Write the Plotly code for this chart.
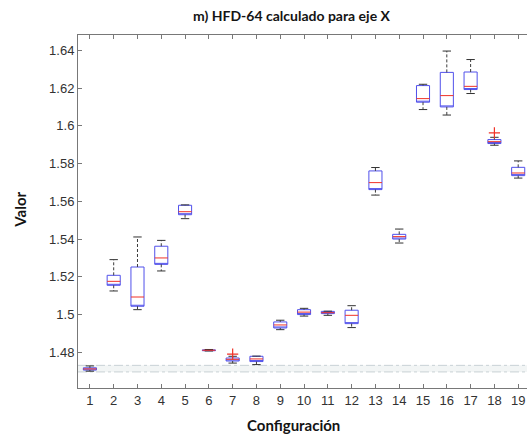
import plotly.graph_objects as go

# HFD-64 (X axis) box statistics per configuration
configs = list(range(1, 20))
q1 = [1.4706, 1.5155, 1.5044, 1.5266, 1.5529, 1.4809, 1.4754, 1.4751, 1.4929, 1.5000,
      1.5005, 1.4952, 1.5662, 1.5400, 1.6125, 1.6100, 1.6192, 1.5906, 1.5736]
median = [1.4712, 1.5176, 1.5093, 1.5300, 1.5545, 1.4811, 1.4763, 1.4765, 1.4945, 1.5013,
          1.5010, 1.4996, 1.5699, 1.5413, 1.6144, 1.6160, 1.6209, 1.5916, 1.5750]
q3 = [1.4718, 1.5208, 1.5252, 1.5362, 1.5579, 1.4813, 1.4770, 1.4779, 1.4961, 1.5026,
      1.5017, 1.5023, 1.5761, 1.5425, 1.6213, 1.6283, 1.6285, 1.5927, 1.5780]
wmin = [1.4700, 1.5125, 1.5026, 1.5231, 1.5508, 1.4807, 1.4743, 1.4735, 1.4920, 1.4992,
        1.4996, 1.4931, 1.5633, 1.5379, 1.6086, 1.6057, 1.6171, 1.5897, 1.5723]
wmax = [1.4728, 1.5291, 1.5411, 1.5393, 1.5581, 1.4815, 1.4779, 1.4780, 1.4970, 1.5033,
        1.5018, 1.5047, 1.5779, 1.5453, 1.6220, 1.6396, 1.6351, 1.5939, 1.5814]
outlier_x = [7, 18]
outlier_y = [1.4790, 1.5962]

# reference band
band_lo = 1.4696
band_hi = 1.4731

y_ticks = [1.48, 1.50, 1.52, 1.54, 1.56, 1.58, 1.60, 1.62, 1.64]
y_tick_text = ["1.48", "1.5", "1.52", "1.54", "1.56", "1.58", "1.6", "1.62", "1.64"]

BOX_W = 0.55
BLUE = "rgb(80,80,235)"
RED = "rgb(240,50,40)"
GRAY = "rgb(120,120,120)"
LABEL_FONT = "Lato, Open Sans, sans-serif"

fig = go.Figure()

# shaded reference band with dash-dot edges
fig.add_shape(type="rect", xref="paper", x0=0, x1=1, yref="y", y0=band_lo, y1=band_hi,
              fillcolor="rgb(242,245,245)", line=dict(width=0), layer="below")
for yv in (band_lo, band_hi):
    fig.add_shape(type="line", xref="paper", x0=0, x1=1, yref="y", y0=yv, y1=yv,
                  line=dict(color="rgb(190,200,205)", width=0.8, dash="dashdot"),
                  layer="below")

# whiskers (dashed black) from box edges to extremes
wx, wy = [], []
for c, a, b, lo, hi in zip(configs, q1, q3, wmin, wmax):
    wx += [c, c, None, c, c, None]
    wy += [b, hi, None, a, lo, None]
fig.add_trace(go.Scatter(x=wx, y=wy, mode="lines",
                         line=dict(color="rgb(60,60,60)", width=1, dash="3px,2px"),
                         hoverinfo="skip", showlegend=False))

# whisker caps
fig.add_trace(go.Scatter(x=configs + configs, y=wmax + wmin, mode="markers",
                         marker=dict(symbol="line-ew", size=6,
                                     line=dict(color="rgb(50,50,50)", width=1)),
                         hoverinfo="skip", showlegend=False))

# red median lines (under the box outline)
mx, my = [], []
for c, m in zip(configs, median):
    mx += [c - BOX_W / 2, c + BOX_W / 2, None]
    my += [m, m, None]
fig.add_trace(go.Scatter(x=mx, y=my, mode="lines", line=dict(color=RED, width=1),
                         hoverinfo="skip", showlegend=False))

# boxes (quartiles only)
fig.add_trace(go.Box(x=configs, q1=q1, median=q1, q3=q3,
                     lowerfence=q1, upperfence=q3, width=BOX_W,
                     line=dict(color=BLUE, width=1), fillcolor="rgba(255,255,255,0)",
                     boxpoints=False, whiskerwidth=0, showlegend=False))

# outliers
fig.add_trace(go.Scatter(x=outlier_x, y=outlier_y, mode="markers",
                         marker=dict(symbol="cross-thin", size=8,
                                     line=dict(color=RED, width=1.2)),
                         hoverinfo="skip", showlegend=False))

fig.update_layout(
    width=527, height=439,
    margin=dict(l=78, r=0, t=35, b=51),
    paper_bgcolor="white", plot_bgcolor="white",
    font=dict(family="Liberation Sans, Arial, sans-serif", size=13, color="rgb(50,50,50)"),
    xaxis=dict(range=[0.5, 19.37], tickmode="array", tickvals=configs,
               ticktext=[str(c) for c in configs],
               showgrid=False, zeroline=False, showline=True, mirror="ticks",
               linecolor=GRAY, linewidth=1, ticks="inside", ticklen=4,
               tickcolor=GRAY),
    yaxis=dict(range=[1.4611, 1.6481], tickmode="array", tickvals=y_ticks,
               ticktext=y_tick_text,
               showgrid=False, zeroline=False, showline=True,
               linecolor=GRAY, linewidth=1, ticks="inside", ticklen=4,
               tickcolor=GRAY),
    annotations=[
        dict(text="<b>m) HFD-64 calculado para eje X</b>", xref="paper", yref="paper",
             x=0.4766, y=1.0, yshift=20, xanchor="center", yanchor="middle",
             showarrow=False, font=dict(family=LABEL_FONT, size=14, color="rgb(20,20,20)")),
        dict(text="<b>Configuración</b>", xref="paper", yref="paper",
             x=0.4795, y=0, yshift=-37, xanchor="center", yanchor="middle",
             showarrow=False, font=dict(family=LABEL_FONT, size=15, color="rgb(20,20,20)")),
        dict(text="<b>Valor</b>", xref="paper", yref="paper",
             x=0, xshift=-58, y=0.505, xanchor="center", yanchor="middle", textangle=-90,
             showarrow=False, font=dict(family=LABEL_FONT, size=15, color="rgb(20,20,20)")),
    ],
)

fig.write_html("out.html")
